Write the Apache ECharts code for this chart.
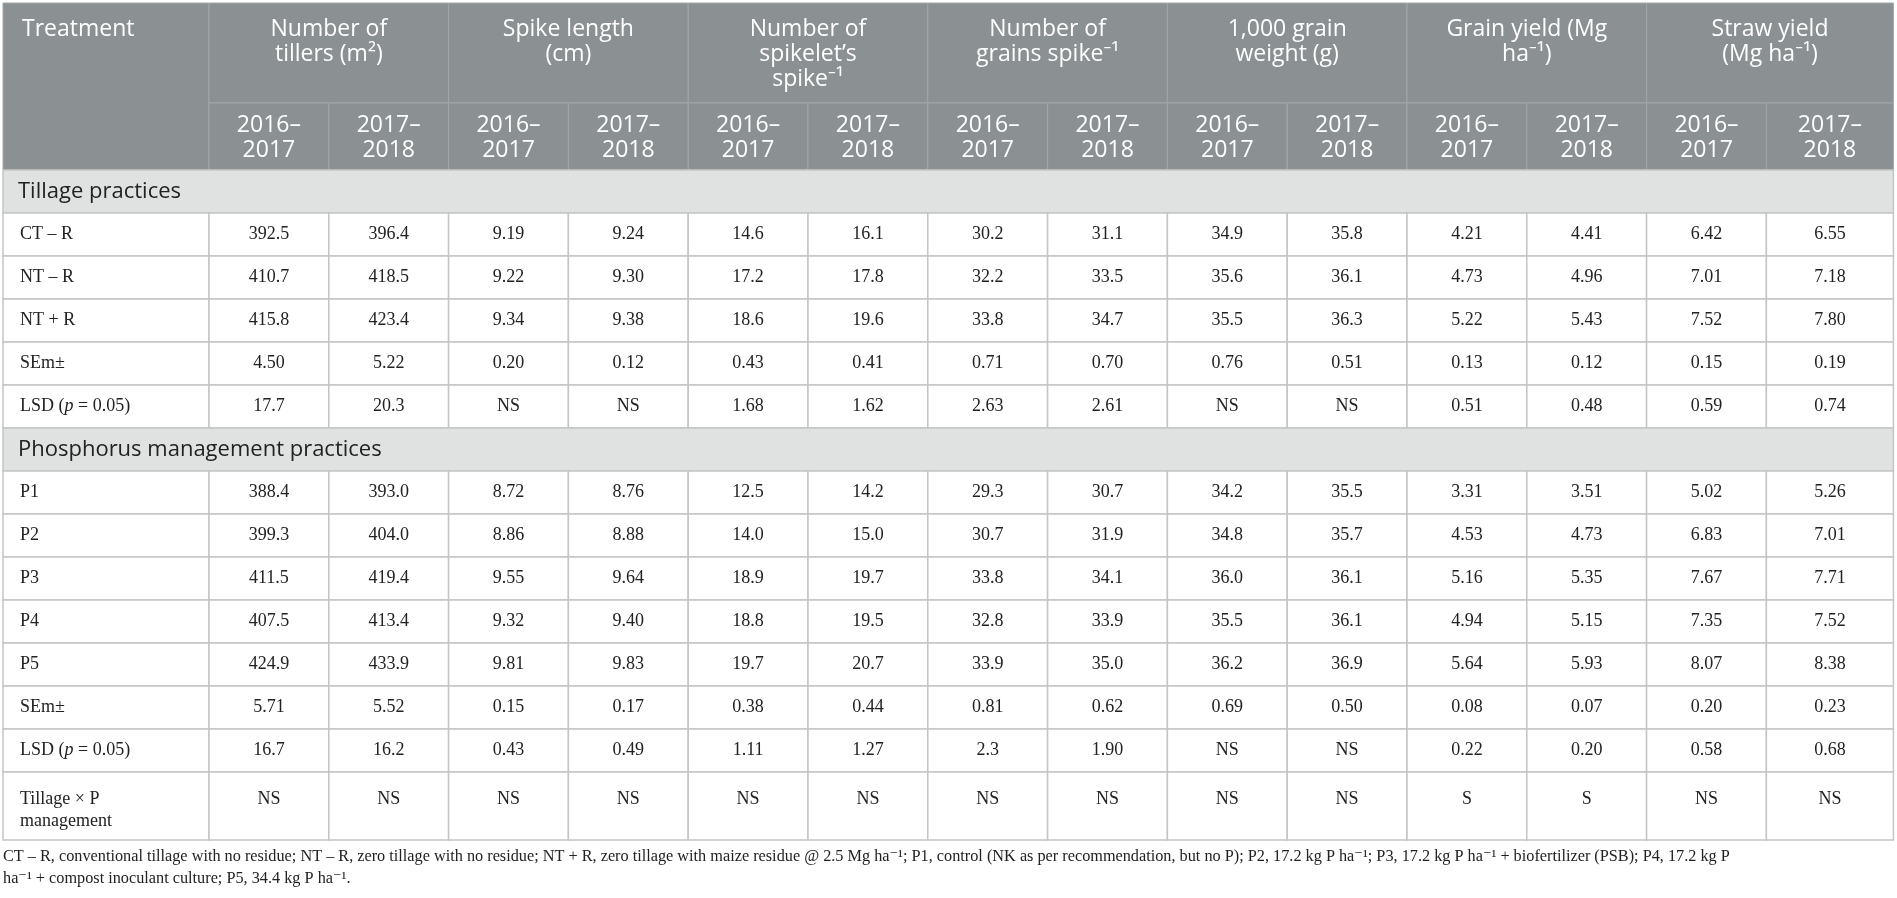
<!DOCTYPE html>
<html>
<head>
<meta charset="utf-8">
<title>Tillage and phosphorus management – yield attributes</title>
<script src="https://cdn.jsdelivr.net/npm/echarts@6/dist/echarts.min.js"></script>
<style>
    html, body { margin: 0; padding: 0; background: #fff; }
    #main { width: 1897px; height: 898px; }
</style>
</head>
<body>
<div id="main"></div>
<script>
// ---- table content ----
var groupTitles = ['Number of\ntillers (m²)', 'Spike length\n(cm)', 'Number of\nspikelet\u2019s\nspike⁻¹',
    'Number of\ngrains spike⁻¹', '1,000 grain\nweight (g)', 'Grain yield (Mg\nha⁻¹)', 'Straw yield\n(Mg ha⁻¹)'];
var seasons = ['2016–\n2017', '2017–\n2018'];
var sections = ['Tillage practices', 'Phosphorus management practices'];

var tillageNames = ['CT – R', 'NT – R', 'NT + R', 'SEm±', 'LSD ({i|p} = 0.05)'];
var ctR = ['392.5', '396.4', '9.19', '9.24', '14.6', '16.1', '30.2', '31.1', '34.9', '35.8', '4.21', '4.41', '6.42', '6.55'];
var ntR = ['410.7', '418.5', '9.22', '9.30', '17.2', '17.8', '32.2', '33.5', '35.6', '36.1', '4.73', '4.96', '7.01', '7.18'];
var ntPlusR = ['415.8', '423.4', '9.34', '9.38', '18.6', '19.6', '33.8', '34.7', '35.5', '36.3', '5.22', '5.43', '7.52', '7.80'];
var semTillage = ['4.50', '5.22', '0.20', '0.12', '0.43', '0.41', '0.71', '0.70', '0.76', '0.51', '0.13', '0.12', '0.15', '0.19'];
var lsdTillage = ['17.7', '20.3', 'NS', 'NS', '1.68', '1.62', '2.63', '2.61', 'NS', 'NS', '0.51', '0.48', '0.59', '0.74'];

var pNames = ['P1', 'P2', 'P3', 'P4', 'P5', 'SEm±', 'LSD ({i|p} = 0.05)'];
var p1 = ['388.4', '393.0', '8.72', '8.76', '12.5', '14.2', '29.3', '30.7', '34.2', '35.5', '3.31', '3.51', '5.02', '5.26'];
var p2 = ['399.3', '404.0', '8.86', '8.88', '14.0', '15.0', '30.7', '31.9', '34.8', '35.7', '4.53', '4.73', '6.83', '7.01'];
var p3 = ['411.5', '419.4', '9.55', '9.64', '18.9', '19.7', '33.8', '34.1', '36.0', '36.1', '5.16', '5.35', '7.67', '7.71'];
var p4 = ['407.5', '413.4', '9.32', '9.40', '18.8', '19.5', '32.8', '33.9', '35.5', '36.1', '4.94', '5.15', '7.35', '7.52'];
var p5 = ['424.9', '433.9', '9.81', '9.83', '19.7', '20.7', '33.9', '35.0', '36.2', '36.9', '5.64', '5.93', '8.07', '8.38'];
var semP = ['5.71', '5.52', '0.15', '0.17', '0.38', '0.44', '0.81', '0.62', '0.69', '0.50', '0.08', '0.07', '0.20', '0.23'];
var lsdP = ['16.7', '16.2', '0.43', '0.49', '1.11', '1.27', '2.3', '1.90', 'NS', 'NS', '0.22', '0.20', '0.58', '0.68'];

var interactionName = 'Tillage × P\nmanagement';
var interaction = ['NS', 'NS', 'NS', 'NS', 'NS', 'NS', 'NS', 'NS', 'NS', 'NS', 'S', 'S', 'NS', 'NS'];

var footnote = [
    'CT – R, conventional tillage with no residue; NT – R, zero tillage with no residue; NT + R, zero tillage with maize residue @ 2.5 Mg ha⁻¹; P1, control (NK as per recommendation, but no P); P2, 17.2 kg P ha⁻¹; P3, 17.2 kg P ha⁻¹ + biofertilizer (PSB); P4, 17.2 kg P',
    'ha⁻¹ + compost inoculant culture; P5, 34.4 kg P ha⁻¹.'
];

(function () {
    var main = document.getElementById('main');
    var myChart = echarts.init(main);

    // layout: column widths and row heights (axis units)
    var colWidths = [206];
    for (var k = 0; k < 13; k++) colWidths.push(119.8);
    colWidths.push(127);
    var rowHeights = [100, 67];
    for (k = 0; k < 14; k++) rowHeights.push(43);
    rowHeights.push(68);

    function edges(list) {
        var out = [0];
        list.forEach(function (w) { out.push(out[out.length - 1] + w); });
        return out;
    }
    var colEdge = edges(colWidths);
    var rowEdge = edges(rowHeights);
    var nCols = colWidths.length;

    // build cells: [col0, col1, row0, row1] + text + kind
    var cells = [];
    function addCell(c0, c1, r0, r1, text, kind) {
        cells.push({ box: [colEdge[c0], colEdge[c1], rowEdge[r0], rowEdge[r1]], text: text, kind: kind });
    }

    addCell(0, 1, 0, 2, 'Treatment', 'headLeft');
    groupTitles.forEach(function (t, g) {
        addCell(1 + g * 2, 3 + g * 2, 0, 1, t, 'headTop');
        seasons.forEach(function (s, j) {
            addCell(1 + g * 2 + j, 2 + g * 2 + j, 1, 2, s, 'headMid');
        });
    });

    function addRow(r, name, values, kind) {
        addCell(0, 1, r, r + 1, name, kind + 'Left');
        values.forEach(function (v, i) {
            addCell(i + 1, i + 2, r, r + 1, v, kind);
        });
    }

    addCell(0, nCols, 2, 3, sections[0], 'section');
    [ctR, ntR, ntPlusR, semTillage, lsdTillage].forEach(function (vals, i) {
        addRow(3 + i, tillageNames[i], vals, 'body');
    });
    addCell(0, nCols, 8, 9, sections[1], 'section');
    [p1, p2, p3, p4, p5, semP, lsdP].forEach(function (vals, i) {
        addRow(9 + i, pNames[i], vals, 'body');
    });
    addRow(16, interactionName, interaction, 'tall');

    var serif = '"Liberation Serif", "DejaVu Serif", serif';
    var sans = '"Open Sans", "Noto Sans", sans-serif';

    function renderItem(params, api) {
        var c = cells[params.dataIndex];
        var a = api.coord([api.value(0), api.value(2)]);
        var b = api.coord([api.value(1), api.value(3)]);
        var x = a[0], y = a[1], w = b[0] - a[0], h = b[1] - a[1];
        var kind = c.kind;
        var isHead = kind.indexOf('head') === 0;

        var rect = {
            type: 'rect',
            shape: { x: x, y: y, width: w, height: h },
            style: {
                fill: isHead ? '#8b9093' : (kind === 'section' ? '#e0e2e1' : '#ffffff'),
                stroke: isHead ? '#a2a7a9' : '#c4c6c5',
                lineWidth: isHead ? 1 : 1.5
            }
        };

        var ts = {
            text: c.text,
            fill: isHead ? '#ffffff' : '#222222',
            fontFamily: isHead || kind === 'section' ? sans : serif,
            fontSize: isHead ? 23 : (kind === 'section' ? 22 : 18),
            lineHeight: isHead ? 25 : 22,
            rich: { i: { fontStyle: 'italic', fontFamily: serif, fontSize: 18 } }
        };
        if (kind === 'headLeft') {
            ts.x = x + 19; ts.y = y + 14; ts.align = 'left'; ts.verticalAlign = 'top';
        } else if (kind === 'headTop') {
            ts.x = x + w / 2; ts.y = y + 14; ts.align = 'center'; ts.verticalAlign = 'top';
        } else if (kind === 'headMid') {
            ts.x = x + w / 2; ts.y = y + h / 2 + 1; ts.align = 'center'; ts.verticalAlign = 'middle';
        } else if (kind === 'section') {
            ts.x = x + 15; ts.y = y + h / 2; ts.align = 'left'; ts.verticalAlign = 'middle';
        } else if (kind === 'bodyLeft') {
            ts.x = x + 17; ts.y = y + h / 2; ts.align = 'left'; ts.verticalAlign = 'middle';
        } else if (kind === 'body') {
            ts.x = x + w / 2; ts.y = y + h / 2; ts.align = 'center'; ts.verticalAlign = 'middle';
        } else if (kind === 'tallLeft') {
            ts.x = x + 17; ts.y = y + 16; ts.align = 'left'; ts.verticalAlign = 'top';
        } else {
            ts.x = x + w / 2; ts.y = y + 16; ts.align = 'center'; ts.verticalAlign = 'top';
        }

        return {
            type: 'group',
            children: [rect, { type: 'text', style: ts }]
        };
    }

    var option = {
        animation: false,
        title: {
            text: footnote.join('\n'),
            left: 3,
            top: 846,
            padding: 0,
            textStyle: {
                fontFamily: serif,
                fontWeight: 'normal',
                fontSize: 16.25,
                lineHeight: 22,
                color: '#222222'
            }
        },
        grid: { left: 3, top: 3, width: colEdge[nCols], height: rowEdge[rowEdge.length - 1] },
        xAxis: { type: 'value', min: 0, max: colEdge[nCols], show: false },
        yAxis: { type: 'value', min: 0, max: rowEdge[rowEdge.length - 1], inverse: true, show: false },
        series: [{
            type: 'custom',
            renderItem: renderItem,
            encode: { x: [0, 1], y: [2, 3] },
            data: cells.map(function (c) { return c.box; })
        }]
    };

    myChart.setOption(option);
    window.onresize = function () {
        myChart.resize();
    };
})();
</script>
</body>
</html>
